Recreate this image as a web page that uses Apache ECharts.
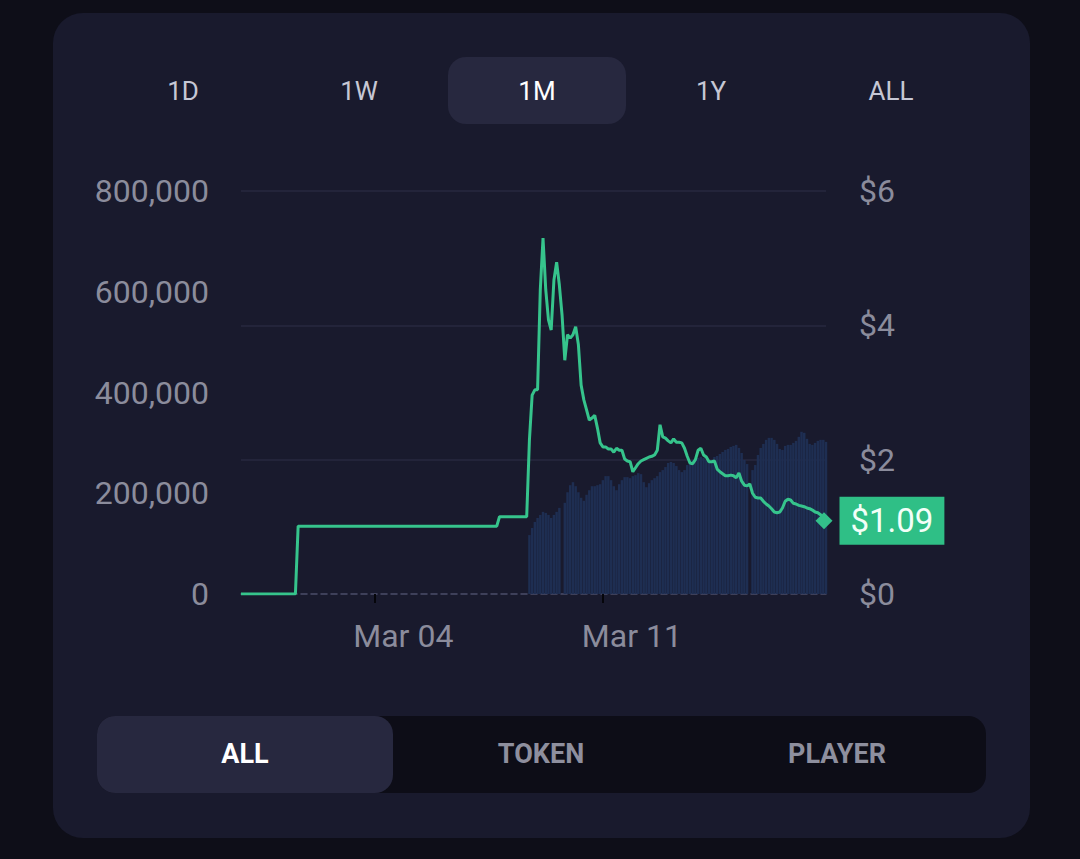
<!DOCTYPE html>
<html>
<head>
<meta charset="utf-8">
<script src="https://cdn.jsdelivr.net/npm/echarts@6/dist/echarts.min.js"></script>
<style>
  html, body { margin: 0; padding: 0; width: 1080px; height: 859px; background: #0e0e18; overflow: hidden; font-family: Roboto, "Noto Sans", sans-serif; }
  .card { position: absolute; left: 53px; top: 13px; width: 977px; height: 825px; border-radius: 30px; background: #191a2d; }
  .tab { position: absolute; top: 91px; transform: translate(-50%, -50%); font-size: 26px; color: #c6c7d4; white-space: nowrap; }
  .tab.sel { color: #ffffff; }
  .tabpill { position: absolute; left: 448px; top: 57px; width: 178px; height: 67px; border-radius: 18px; background: #27283f; }
  .seg { position: absolute; left: 97px; top: 716px; width: 889px; height: 77px; border-radius: 18px; background: #0d0d17; }
  .segpill { position: absolute; left: 97px; top: 716px; width: 296px; height: 77px; border-radius: 18px; background: #27283f; }
  .segt { position: absolute; top: 754px; transform: translate(-50%, -50%); font-size: 27px; font-weight: 700; color: #8e8f9e; white-space: nowrap; }
  .segt.sel { color: #ffffff; }
  #chart { position: absolute; left: 0; top: 0; width: 1080px; height: 859px; }
</style>
</head>
<body>
<div class="card"></div>
<div class="tabpill"></div>
<div class="tab" style="left:183px">1D</div>
<div class="tab" style="left:359px">1W</div>
<div class="tab sel" style="left:537px">1M</div>
<div class="tab" style="left:711px">1Y</div>
<div class="tab" style="left:891px">ALL</div>
<div id="chart"></div>
<div class="seg"></div>
<div class="segpill"></div>
<div class="segt sel" style="left:245px">ALL</div>
<div class="segt" style="left:541px">TOKEN</div>
<div class="segt" style="left:837px">PLAYER</div>
<script>
// ---- data ----
// 2-hour buckets starting Feb 28 22:00 (UTC), 216 buckets
const startTime = Date.UTC(2024, 1, 28, 22, 0, 0);
const stepHours = 2;
const bucketCount = 216;
const months = ['Jan','Feb','Mar','Apr','May','Jun','Jul','Aug','Sep','Oct','Nov','Dec'];
const categories = [];
for (let i = 0; i < bucketCount; i++) {
  const d = new Date(startTime + i * stepHours * 3600 * 1000);
  const p = n => String(n).padStart(2, '0');
  categories.push(months[d.getUTCMonth()] + ' ' + p(d.getUTCDate()) + ' ' + p(d.getUTCHours()) + ':00');
}
const tickLabels = ['Mar 04 00:00', 'Mar 11 00:00'];

// price before trading volume: [bucket index, price]
const priceSteps = [[0, 0], [20, 0], [21, 1.01], [94, 1.01], [95, 1.15], [105, 1.15]];
// price from bucket 106 onward
const lateStart = 106;
const priceLate = [
  2.29, 2.96, 3.04, 3.04, 4.53, 5.30, 4.53, 4.08, 3.93, 4.67,
  4.94, 4.60, 4.15, 3.48, 3.86, 3.81, 3.86, 3.98, 3.71, 3.11,
  2.89, 2.74, 2.59, 2.62, 2.66, 2.47, 2.25, 2.19, 2.19, 2.16,
  2.16, 2.11, 2.17, 2.14, 2.14, 2.01, 1.98, 1.97, 1.82, 1.88,
  1.94, 1.98, 2.00, 2.02, 2.04, 2.05, 2.07, 2.14, 2.52, 2.34,
  2.32, 2.28, 2.25, 2.31, 2.26, 2.26, 2.25, 2.17, 2.05, 1.95,
  1.94, 2.00, 2.14, 2.17, 2.07, 2.04, 1.97, 1.97, 1.98, 1.86,
  1.82, 1.79, 1.76, 1.76, 1.77, 1.76, 1.73, 1.80, 1.68, 1.62,
  1.61, 1.64, 1.50, 1.44, 1.43, 1.43, 1.38, 1.34, 1.31, 1.27,
  1.22, 1.21, 1.22, 1.28, 1.38, 1.41, 1.40, 1.35, 1.34, 1.32,
  1.31, 1.30, 1.28, 1.27, 1.25, 1.22, 1.21, 1.18, 1.15, 1.09
];
// volume from bucket 106 onward
const volumeLate = [
  117000, 131000, 143000, 151000, 157000, 163000, 161000, 157000, 151000, 157000,
  163000, 171000, 0, 181000, 202000, 216000, 222000, 214000, 202000, 191000,
  185000, 197000, 206000, 214000, 214000, 216000, 218000, 226000, 234000, 234000,
  226000, 214000, 206000, 218000, 226000, 232000, 232000, 230000, 234000, 236000,
  240000, 238000, 222000, 212000, 220000, 226000, 230000, 234000, 242000, 246000,
  252000, 260000, 262000, 260000, 254000, 246000, 242000, 246000, 256000, 264000,
  266000, 270000, 270000, 272000, 270000, 266000, 260000, 264000, 272000, 274000,
  278000, 282000, 286000, 288000, 292000, 294000, 296000, 290000, 280000, 266000,
  258000, 0, 246000, 256000, 276000, 290000, 298000, 306000, 310000, 310000,
  306000, 298000, 288000, 286000, 294000, 296000, 296000, 300000, 304000, 312000,
  322000, 320000, 308000, 298000, 296000, 300000, 304000, 306000, 306000, 302000
];
const volumeTicks = [0, 200000, 400000, 600000, 800000];
const priceTicks = [0, 2, 4, 6];

// ---- build ----
const priceData = priceSteps.concat(priceLate.map((v, i) => [lateStart + i, v]));
const volumeData = volumeLate.map((v, i) => [lateStart + i, v]);
const lastIdx = lateStart + priceLate.length - 1;
const lastPrice = priceLate[priceLate.length - 1];

const chart = echarts.init(document.getElementById('chart'), null, { renderer: 'svg' });
const axisFont = { color: '#8b8c9c', fontSize: 32, fontFamily: 'Roboto' };
chart.setOption({
  animation: false,
  backgroundColor: 'transparent',
  grid: { left: 241, right: 254, top: 191, bottom: 265 },
  xAxis: {
    type: 'category',
    data: categories,
    boundaryGap: false,
    axisLine: { lineStyle: { color: '#4b4e6a', type: [6, 4], width: 1.5 } },
    axisTick: {
      show: true,
      interval: (idx, val) => tickLabels.indexOf(val) >= 0,
      length: 9,
      lineStyle: { color: '#05050a', width: 2 }
    },
    axisLabel: Object.assign({
      interval: (idx, val) => tickLabels.indexOf(val) >= 0,
      formatter: v => v.slice(0, 6),
      margin: 26,
      padding: [0, 0, 0, 58]
    }, axisFont),
    splitLine: { show: false }
  },
  yAxis: [
    {
      type: 'value',
      min: volumeTicks[0],
      max: volumeTicks[volumeTicks.length - 1],
      interval: volumeTicks[1] - volumeTicks[0],
      position: 'left',
      axisLine: { show: false },
      axisTick: { show: false },
      splitLine: { show: false },
      axisLabel: Object.assign({
        margin: 32,
        formatter: v => Number(v).toLocaleString('en-US')
      }, axisFont)
    },
    {
      type: 'value',
      min: priceTicks[0],
      max: priceTicks[priceTicks.length - 1],
      interval: priceTicks[1] - priceTicks[0],
      position: 'right',
      axisLine: { show: false },
      axisTick: { show: false },
      splitLine: { show: true, lineStyle: { color: ['rgba(0,0,0,0)', '#23243a', '#23243a', '#23243a'], width: 2 } },
      axisLabel: Object.assign({
        margin: 33,
        formatter: v => '$' + v
      }, axisFont)
    }
  ],
  series: [
    {
      type: 'bar',
      yAxisIndex: 0,
      data: volumeData,
      barCategoryGap: '10%',
      itemStyle: { color: '#1e2e52' },
      z: 1
    },
    {
      type: 'line',
      yAxisIndex: 1,
      data: priceData,
      showSymbol: false,
      lineStyle: { color: '#36c48c', width: 3 },
      z: 3
    },
    {
      type: 'scatter',
      yAxisIndex: 1,
      data: [[lastIdx, lastPrice]],
      symbol: 'diamond',
      symbolSize: 17,
      symbolOffset: [-2, 0],
      itemStyle: { color: '#33c08a', opacity: 1 },
      label: {
        show: true,
        position: 'right',
        distance: 7,
        formatter: p => '$' + p.value[1].toFixed(2),
        backgroundColor: '#2fbf86',
        color: '#f2fff8',
        fontSize: 33,
        fontFamily: 'Roboto',
        padding: [8, 11, 7, 11]
      },
      z: 4
    }
  ]
});
</script>
</body>
</html>
